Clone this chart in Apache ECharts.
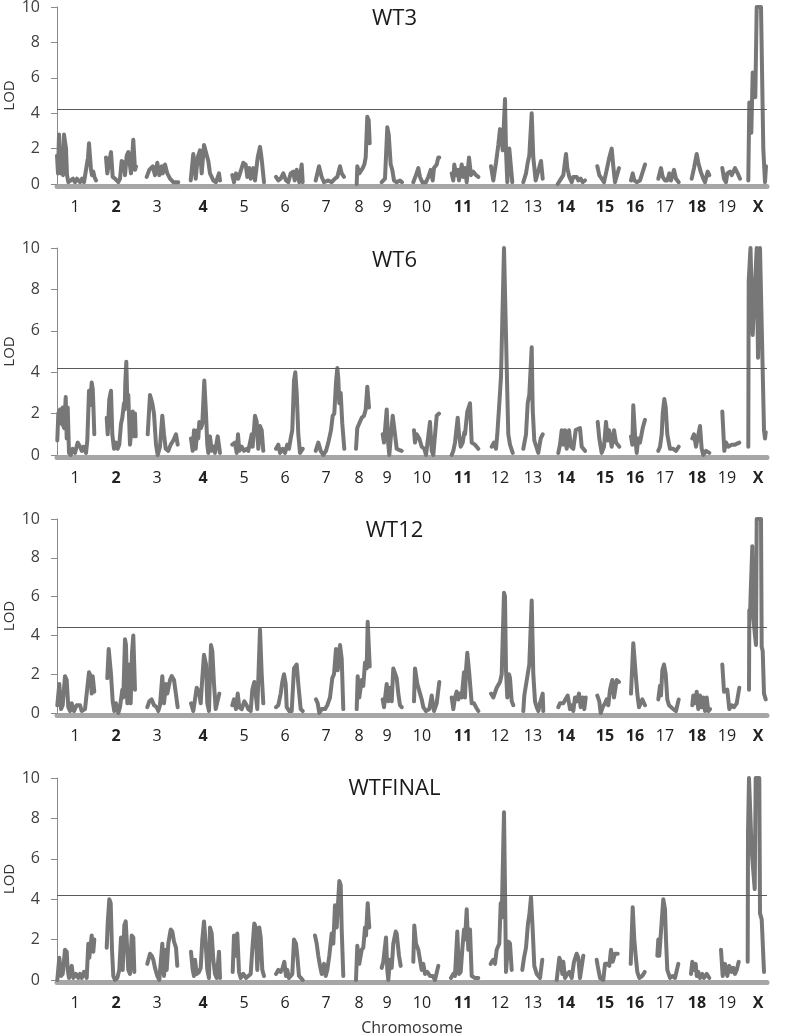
<!DOCTYPE html>
<html><head><meta charset="utf-8">
<script src="https://cdn.jsdelivr.net/npm/echarts@6/dist/echarts.min.js"></script>
<style>html,body{margin:0;padding:0;background:#fff}#c{width:787px;height:1036px}</style>
</head><body><div id="c"></div>
<script>
// ---- data ----
const panelNames = ['WT3', 'WT6', 'WT12', 'WTFINAL'];
const thresholds = [4.24, 4.19, 4.43, 4.19];
const chromLabels = ['1','2','3','4','5','6','7','8','9','10','11','12','13','14','15','16','17','18','19','X'];
const chromLabelPos = [18,59,100,146,187,228,269,302,330,365,406,443,476,509,548,578,608,640,670,701];
const boldChroms = ['2','4','11','14','15','16','18','X'];
const yTicks = [0, 2, 4, 6, 8, 10];

// genome position (marker index scale 0..710), LOD; one segment per chromosome
const wt3 = [
 [[0,1.6],[1,0.6],[2,2.8],[3,2.8],[4,0.6],[5,1.0],[6,0.5],[7,2.8],[8,2.8],[9,2.0],[10,0.5],[11.3,0.1],[13,0.05],[16,0.3],[18,0.1],[20,0.3],[23,0.1],[25,0.3],[27,0.1],[29,0.8],[31,1.5],[32,2.3],[33,2.2],[34,0.8],[35,0.5],[36.3,0.7],[37.5,0.4],[39,0.2]],
 [[49,1.5],[50.3,0.6],[52,1.2],[54,1.8],[55.7,0.4],[58,0.3],[61.3,0.1],[63,0.3],[64.7,1.3],[67,1.2],[68,0.5],[69.7,1.6],[71.3,1.8],[73,1.9],[74,0.6],[76.3,2.5],[78,0.8],[79,1.0]],
 [[89.7,0.4],[92.3,0.8],[95.7,1.0],[98,0.5],[100.3,1.2],[102.3,0.5],[104.7,1.0],[105.7,0.6],[108,1.1],[110.3,0.6],[113,0.3],[116.3,0.1],[121.3,0.1]],
 [[133.7,0.2],[136.3,1.7],[138.7,0.3],[140.7,1.5],[143,1.9],[144.7,0.6],[147,2.2],[149,2.2],[151.3,1.3],[153,0.6],[156.3,0.2],[159,0.1],[162,0.6],[163,0.2]],
 [[175.3,0.5],[177,0.1],[179,0.6],[181.3,0.3],[183,0.6],[186.3,1.2],[188.7,1.1],[190.3,0.4],[192.3,0.9],[193.7,0.3],[196.3,0.9],[198,0.2],[200.7,1.5],[203,2.1],[204.7,1.4],[207,0.1]],
 [[219,0.4],[221.3,0.2],[223.7,0.3],[226.3,0.6],[229,0.2],[231.3,0.1],[233.7,0.6],[236.3,0.7],[237.7,0.2],[239.7,0.8],[242.3,0.1],[244.7,1.1],[245.7,0.1]],
 [[258.7,0.2],[262,1.0],[264.7,0.4],[267,0.1],[271.3,0.2],[274.7,0.1],[278,0.3],[280.3,0.4],[283,1.0],[284.7,0.6],[287,0.4]],
 [[299.7,0.0],[300.3,1.0],[302.3,0.6],[305.7,0.9],[307.3,1.1],[308.7,1.5],[310.3,3.8],[311.7,3.6],[312.7,2.3]],
 [[324.7,0.1],[328,0.3],[330.3,3.2],[331.7,2.8],[333.7,1.1],[335.3,0.8],[337,0.2],[339.7,0.1],[341,0.05],[343,0.2],[345,0.1]],
 [[356.3,0.1],[359,0.5],[361.3,0.9],[363,0.4],[365.3,0.1],[369,0.1],[371.3,0.4],[373.7,0.8],[375.7,0.2],[377,0.9],[379.7,1.1],[381.3,1.5],[382.3,1.5]],
 [[394.7,0.6],[396.3,0.2],[397.3,1.1],[399,0.5],[400.7,0.8],[402,0.2],[404.7,1.1],[406.3,0.4],[408,0.9],[409.7,0.1],[412,1.5],[414,0.5],[416.3,0.7],[419,0.5],[421.3,0.4]],
 [[434,1.0],[436.3,0.2],[439,1.2],[441.3,2.2],[443,3.1],[444,2.9],[445.7,1.9],[448,4.8],[449,1.9],[450.3,0.1],[452.3,2.0],[453.7,1.9],[455.3,0.1]],
 [[466.3,0.1],[469,0.6],[470.7,1.2],[472.3,1.6],[474.7,4.0],[476.3,1.5],[478.7,0.2],[480.7,0.1],[484,1.3],[485.7,0.3]],
 [[500.7,0.0],[503,0.2],[504.7,0.1],[506.3,0.5],[509,1.7],[510.3,0.9],[512.3,0.4],[514.7,0.1],[516.3,0.4],[519.7,0.4],[521.3,0.2],[523.7,0.3],[525.7,0.1],[528,0.2]],
 [[540.3,1.0],[542.3,0.5],[544.7,0.3],[547,0.1],[549.7,0.8],[552.3,1.5],[554.7,2.0],[556.3,1.0],[558,0.1],[559.7,0.2],[562,0.9]],
 [[574,0.2],[575.7,0.6],[577.3,0.2],[579.7,0.1],[583,0.2],[584.7,0.3],[588,1.1]],
 [[601.3,0.3],[604,0.9],[605.7,0.4],[608,0.2],[610.3,0.2],[612.3,0.6],[614,0.2],[617,0.8],[619,0.3],[621.7,0.1]],
 [[634.7,0.3],[637,0.9],[639.7,1.7],[641.3,1.2],[643.7,0.7],[646.3,0.3],[648,0.1],[650.7,0.7],[652.3,0.5]],
 [[665.3,0.9],[667,0.3],[669,0.1],[670.3,0.6],[673,0.7],[674.7,0.5],[678,0.9],[680.7,0.6],[683,0.3]],
 [[691.3,0.2],[692.3,4.6],[693.3,4.4],[694.3,2.9],[695.7,6.3],[697,5.5],[698.3,4.9],[699.7,10],[704,10],[706.3,2.0],[708,0.1],[709,1.0]]
];

const wt6 = [
 [[0.3,0.7],[1.3,2.0],[3,2.2],[4.7,1.5],[5.7,2.3],[6.3,1.4],[7.3,1.3],[8.7,2.8],[9.7,0.8],[10.7,2.3],[12,0.1],[13.7,0.0],[15.7,0.3],[18,0.1],[20.7,0.6],[23,0.4],[24.7,0.2],[26.3,0.4],[29,0.1],[30.3,0.7],[32,3.1],[33,2.4],[34.7,3.5],[35.7,3.2],[36.3,2.5],[37.3,1.0]],
 [[49.7,1.8],[50.7,1.0],[52.3,2.7],[54,3.1],[55.3,1.0],[57,0.3],[59,0.6],[60.7,0.3],[62.3,0.5],[64,1.5],[65.3,1.8],[67,2.5],[67.7,2.2],[68.3,3.5],[69.3,4.5],[70.3,2.6],[71.3,2.9],[73,0.5],[74,1.0],[75.7,2.1],[77.3,0.9],[78,2.0],[78.7,0.9]],
 [[90.7,1.0],[93,2.9],[95.3,2.5],[97,2.0],[99,0.5],[100.7,0.0],[103,0.4],[105.3,1.9],[107,1.0],[108.7,0.3],[111.3,0.2],[113.7,0.5],[116.3,0.7],[119,1.0],[120.7,0.5]],
 [[134,0.8],[135.7,0.2],[137,1.2],[138.7,0.3],[140.3,1.2],[141.3,0.8],[142.3,1.6],[144,1.3],[145.3,1.5],[147.3,3.6],[149,2.0],[150.3,0.5],[151.3,0.1],[153,0.9],[154.7,0.2],[157,0.4],[158,0.1],[160.7,0.9],[163,0.1]],
 [[175.3,0.5],[178,0.6],[179.7,0.1],[181,1.0],[182.3,0.2],[184.7,0.4],[187,0.2],[189.7,0.3],[191.3,0.2],[194.7,1.0],[195.7,0.4],[198,1.9],[199.7,1.6],[201.3,0.3],[203,1.4],[204.7,1.2],[206.3,0.2]],
 [[219,0.3],[221.3,0.5],[223,0.1],[225.7,0.3],[228,0.1],[230.3,0.5],[232,0.3],[233.7,0.8],[235.3,1.2],[237,3.6],[238.3,4.0],[239.7,3.0],[241.3,1.0],[243,0.1],[245.7,0.3]],
 [[258.7,0.2],[261.3,0.6],[263.7,0.2],[266.3,0.0],[269,0.2],[271.3,0.6],[274,1.2],[275.7,1.9],[277.3,2.0],[279,3.5],[280.3,4.2],[281.3,3.7],[282.3,2.5],[283.7,3.0],[285.3,1.5],[287.3,0.3]],
 [[299,0.3],[300.3,1.3],[302.3,1.3],[304.7,1.8],[307,1.9],[308.7,2.2],[310.3,3.3],[312,2.3]],
 [[325.7,1.0],[327,0.6],[329.7,2.2],[331.3,0.5],[332.3,0.0],[335.7,1.9],[338,1.0],[339.7,0.3],[342,0.25],[344.7,0.2]],
 [[357,1.2],[358,0.6],[359.7,1.0],[362.3,0.8],[364.7,0.4],[367.3,0.3],[369,0.0],[373,1.6],[374.7,0.2],[376.3,0.0],[379.7,1.9],[382,2.0]],
 [[394.7,0.0],[396.3,0.2],[398,0.6],[400.7,1.8],[402,1.0],[403.7,0.4],[405.7,0.6],[407.3,1.1],[408,1.0],[410.3,2.1],[413,2.5],[414.7,0.6],[418,0.5],[421.3,0.3]],
 [[434.7,0.4],[437,0.6],[439,0.3],[440.3,1.0],[443,3.0],[444,3.8],[445.3,3.8],[447,10],[448.7,10],[450.3,3.0],[451.3,1.0],[453,0.5],[455.7,0.1]],
 [[466.3,0.3],[469,1.0],[470.7,2.5],[472.3,2.9],[474.7,5.2],[475.7,2.2],[477.3,0.7],[481.3,0.1],[483.7,0.8],[485.7,1.0]],
 [[501.3,0.1],[503,0.5],[504.7,1.2],[506.3,0.5],[508,1.2],[509.7,0.3],[512,1.2],[514,0.4],[516.3,0.3],[518.7,1.2],[523,1.3],[524.7,0.4],[528,0.2]],
 [[540.7,1.6],[542.3,0.8],[544.7,0.1],[547,0.4],[549,1.6],[550.7,0.7],[552,1.2],[554.7,0.4],[557,1.2],[559,0.6],[562.3,0.4]],
 [[574,0.9],[575.3,0.5],[576.3,2.4],[578,1.0],[579.7,0.1],[581.3,0.8],[583,0.6],[585.7,1.3],[588,1.7]],
 [[601.3,0.2],[603,0.4],[604.7,1.0],[605.7,2.0],[607.3,2.7],[608.7,2.3],[610.3,1.0],[613,0.3],[616.3,0.3],[619,0.2],[621.7,0.4]],
 [[635.3,0.8],[637,1.0],[639,0.4],[643,1.4],[644.7,0.3],[646.3,0.0],[649,0.2],[652.3,0.1]],
 [[665.3,2.1],[667.3,0.2],[669,0.6],[671.3,0.4],[674.7,0.5],[678,0.5],[682.3,0.6]],
 [[691.3,0.4],[691.7,8.4],[693.5,10],[695.7,5.8],[697.7,5.8],[699.7,10],[701,4.7],[703,10],[704.5,10],[707,1.2],[708,0.8],[708.7,1.1]]
];

const wt12 = [
 [[0.3,0.4],[2.3,1.5],[4,0.2],[5.7,0.4],[8,1.9],[9.7,1.7],[11.3,0.3],[13,0.1],[14.7,0.5],[17,0.1],[19.7,0.4],[23,0.4],[24.7,0.1],[28,0.2],[29.7,0.1],[32,2.1],[33.7,1.9],[34.7,1.0],[35.7,1.9],[37.3,1.1]],
 [[50.3,1.8],[51.7,3.3],[53,3.3],[54,2.0],[55.7,0.6],[57.3,0.1],[59,0.5],[61.3,0.0],[63,0.3],[65.3,1.2],[66.3,0.8],[68,3.8],[69,3.5],[70.3,0.5],[72,2.5],[73.7,0.5],[75,3.1],[76.3,4.0],[78,1.2]],
 [[90.3,0.3],[92.3,0.6],[94.7,0.7],[97,0.4],[99.7,0.3],[101.3,0.1],[103,0.4],[105.3,1.9],[107,0.5],[109,1.5],[110.3,1.0],[113,1.7],[114.7,1.9],[117,1.7],[119,1.6],[120.7,0.3]],
 [[134,0.5],[136.3,0.1],[139.7,1.3],[142,1.1],[143.7,0.5],[145.3,1.8],[147,3.0],[149,2.5],[150.3,0.5],[152,0.1],[153,2.0],[154,3.5],[155.3,3.2],[157,1.5],[158.7,0.2],[160.3,0.1],[162.3,1.0]],
 [[175.3,0.4],[177,0.7],[179,0.2],[180.7,1.0],[182.3,0.3],[184.7,0.2],[187.3,0.6],[189.7,0.4],[191.3,0.2],[193.7,0.1],[195.3,1.2],[197.3,1.6],[199,1.5],[200.3,0.2],[203,4.3],[204.7,2.0],[206.3,0.5]],
 [[219,0.3],[221.3,0.4],[223.7,1.0],[225.3,1.6],[227,2.0],[228.7,1.5],[229.7,0.3],[232.3,0.1],[234.7,0.1],[237,2.3],[239.7,2.5],[241.3,1.5],[243.7,0.2],[245.7,0.1]],
 [[259,0.7],[260.7,0.5],[262.3,0.0],[264.7,0.2],[268,0.2],[270.3,0.4],[273,0.8],[275.3,1.8],[277,2.0],[279,3.3],[280.7,2.2],[283,3.5],[284.7,2.8],[286.3,0.2]],
 [[299.7,0.2],[300.7,1.9],[302.3,0.8],[304.7,1.7],[306.3,1.4],[308,2.6],[309.7,2.3],[310.7,4.7],[312,4.6],[312.7,2.4]],
 [[325.7,0.7],[327,0.3],[329.7,1.5],[331.3,0.6],[333,1.3],[334.7,0.6],[336.3,2.3],[339.7,1.8],[341.3,1.0],[343,0.4],[344.7,0.3]],
 [[357,0.6],[358,2.3],[360.3,1.5],[362.3,1.5],[364.7,0.7],[366.3,0.3],[369,0.1],[372.3,0.2],[374.7,0.9],[377,0.1],[379.7,0.5],[382.3,1.6]],
 [[394.7,0.8],[396.3,0.2],[398,0.8],[399.7,1.1],[401.3,0.7],[403,1.0],[404.7,0.8],[407,2.1],[408,0.8],[409,2.2],[410.3,3.1],[412,2.2],[413,2.3],[414.7,0.5],[417,0.5],[419,0.3],[421.3,0.1]],
 [[434,1.0],[436.3,0.8],[438,0.7],[439.7,1.3],[441.3,1.2],[443,1.6],[444.7,2.0],[447,6.2],[448,6.0],[449,2.2],[450.3,0.8],[452,2.0],[453,1.8],[454.7,0.6],[456.3,0.4]],
 [[466.3,0.1],[467.3,0.9],[469,1.0],[470.7,2.0],[472.3,2.5],[474.7,5.8],[476.3,2.0],[478,0.6],[479.7,0.3],[481.3,0.1],[483,0.5],[485.7,1.0],[486.3,0.1]],
 [[501.3,0.3],[503,0.5],[504.7,0.6],[506.3,0.5],[510.7,0.9],[513,0.2],[514.7,0.4],[516.3,0.1],[518,0.8],[519.7,0.6],[522,1.0],[523.7,0.3],[525.7,0.8],[527.3,0.2],[528.7,0.8]],
 [[540.3,0.9],[542.3,0.6],[543.7,0.0],[545.7,0.3],[548,0.5],[549.7,0.7],[551.3,0.4],[553,1.2],[555.3,1.7],[557,0.8],[559.7,1.7],[562,1.6]],
 [[574,1.0],[576.3,3.6],[578.7,2.0],[580.3,1.0],[582,0.3],[583.7,0.2],[585.3,0.7],[588,0.4]],
 [[601.3,0.7],[603,1.4],[604,0.9],[605.3,2.2],[607,2.5],[608.7,2.0],[610.3,0.7],[612,0.4],[614,0.3],[616.3,0.2],[619,0.1],[621.7,0.7]],
 [[635.3,0.4],[636.3,0.9],[638,0.5],[639.7,1.1],[641.3,0.2],[643,0.9],[644.7,0.3],[646.3,0.8],[648,0.1],[649.7,0.8],[651.3,0.1],[653,0.2]],
 [[665.3,2.5],[667,1.1],[670.3,1.2],[672.3,0.2],[674.7,0.4],[677,0.3],[679.7,0.5],[682.3,1.3]],
 [[692,1.2],[692.3,5.3],[693,5.0],[693.7,6.2],[695.3,8.6],[696.3,4.9],[698,4.9],[699,3.5],[699.7,10],[704,10],[704.7,3.4],[705.7,3.2],[707,1.0],[708.7,0.7]]
];

const wtFinal = [
 [[0.3,0.0],[2.3,1.1],[4,0.2],[5.7,0.3],[8,1.5],[9.7,1.4],[10.7,0.5],[12,0.1],[14.7,0.7],[16.3,0.1],[19,0.3],[21.3,0.1],[23,0.3],[24.7,0.1],[27,0.4],[29.7,0.1],[31.3,1.8],[32.3,1.1],[34.7,2.2],[36.3,1.4],[37.3,2.0]],
 [[49.7,1.6],[50.7,2.8],[52.3,4.0],[53.7,3.8],[55,1.5],[56.3,0.2],[58,0.0],[60.3,0.1],[62.3,0.5],[64,2.1],[65.7,0.5],[67.3,2.7],[68.7,2.9],[69.7,2.0],[71.3,0.5],[73,0.3],[74.7,2.2],[76.3,2.1],[77.3,0.4]],
 [[90.3,0.8],[93,1.3],[94.7,1.2],[96.3,1.0],[98,0.6],[100.3,0.2],[102.3,0.0],[105.3,1.8],[107,0.2],[109,1.5],[109.7,0.5],[111.3,1.8],[113.7,2.5],[115.3,2.4],[117,1.9],[119,1.6],[120.3,0.7]],
 [[134,1.4],[135.7,0.5],[137,0.2],[138,1.0],[139.7,0.3],[142,0.4],[143.7,0.6],[145.3,2.0],[147,2.9],[148.7,1.8],[150.3,0.5],[152,0.1],[153,2.6],[154.7,2.3],[156.3,1.0],[158,0.3],[159.7,0.1],[162,1.4],[163,0.1]],
 [[175.7,0.4],[177,2.2],[179,1.2],[180.3,2.3],[182,0.4],[183.7,0.1],[186.3,0.3],[189,0.1],[191.3,0.2],[193.7,0.3],[195.3,1.5],[197.3,2.8],[198.7,2.6],[200.3,0.5],[202.3,2.6],[203.7,2.1],[205.3,0.5],[207,0.2]],
 [[219,0.3],[221.3,0.5],[223.7,0.4],[225.7,0.6],[227.3,0.9],[229,0.2],[230.3,0.5],[232,0.1],[233.7,0.2],[235.3,0.3],[237,2.0],[239,1.8],[240.3,1.2],[242,0.2],[244,0.1],[245.7,0.0]],
 [[258,2.2],[259.7,1.8],[261.3,1.2],[263,0.7],[264.7,0.3],[267,0.8],[268.7,0.2],[270.3,0.5],[272.3,1.2],[274.7,2.3],[276.3,1.8],[278,3.7],[279.7,2.6],[282.3,4.9],[283.7,4.7],[284.7,2.5],[286.3,0.2]],
 [[299,0.0],[300.3,1.7],[302.3,0.8],[304.7,1.5],[306.3,1.6],[308,2.6],[309,2.2],[310.7,3.8],[311.7,3.0],[312.3,2.6]],
 [[324.7,0.6],[326.3,0.9],[329,2.1],[330.3,0.5],[331.3,0.0],[333,1.0],[334.7,0.6],[336.3,1.8],[338.7,2.4],[339.7,2.3],[342,1.2],[343.7,0.7]],
 [[356.3,0.9],[357.3,2.7],[359,1.8],[361.3,1.5],[363,1.0],[364.7,0.5],[366.3,0.8],[368,0.3],[370.3,0.4],[373,0.2],[375.7,0.2],[378,0.0],[381.3,0.7]],
 [[394,0.1],[396.3,0.3],[398,0.2],[400.3,2.4],[402,0.3],[403.7,0.4],[405.3,1.5],[407,2.5],[408,2.0],[409.7,3.5],[411.3,1.5],[413,2.5],[414.7,0.2],[418,0.1],[421.3,0.1]],
 [[433.7,0.8],[434.7,0.9],[436.3,1.0],[438,0.8],[439.7,1.5],[442.3,1.8],[443.7,3.8],[444.7,3.1],[447,8.3],[448,4.5],[449,0.4],[451.3,1.9],[453,1.8],[454.7,0.5]],
 [[465.3,0.5],[467,1.1],[469,1.6],[471,2.8],[472.3,3.2],[474,4.1],[475.7,2.5],[477.3,0.7],[479.7,0.3],[483,0.1],[485.3,1.0]],
 [[499.7,0.0],[502.3,1.1],[504,0.9],[505.3,0.3],[506.3,0.9],[508,0.1],[510.3,0.3],[512.3,0.4],[514.7,0.1],[517,0.9],[519.7,1.3],[521.3,1.1],[523,0.1],[526.3,1.2]],
 [[539.7,1.0],[540.7,0.7],[543,0.1],[546.3,0.0],[548,0.8],[550.3,0.8],[552.3,0.7],[554,1.5],[555.7,0.9],[558,1.3],[560.7,1.3]],
 [[573.7,0.8],[575.7,3.6],[577.3,2.0],[578.7,1.2],[580.3,0.4],[582.3,0.1],[585.3,0.2],[587.7,0.4]],
 [[600.3,1.2],[601.3,2.0],[602.3,1.2],[604.7,2.9],[606.3,4.0],[608,3.5],[609,2.0],[610.3,0.5],[613,0.1],[615.7,0.2],[618,0.1],[621.3,0.8]],
 [[634,0.3],[635.3,0.9],[637,0.5],[638.7,0.8],[639.7,0.2],[641.3,0.4],[643,0.1],[645.3,0.3],[647,0.1],[649.7,0.3],[652.3,0.1]],
 [[664,1.5],[665.7,0.2],[668,0.8],[670.3,0.2],[672.3,0.7],[674.7,0.4],[676.3,0.6],[678,0.3],[679.7,0.5],[681.7,0.9]],
 [[690.7,0.9],[691,7.3],[692,10],[694,10],[694.7,6.4],[696.3,6.4],[697.7,4.5],[698.7,10],[702.3,10],[703,3.3],[704.7,3.0],[707,0.4]]
];

// ---- chart ----
const panels = [wt3, wt6, wt12, wtFinal];
const FONT = '"Open Sans", "Noto Sans", sans-serif';
const layout = [
  {top: 7, height: 177, titleTop: 3},
  {top: 248, height: 207, titleTop: 245},
  {top: 519, height: 194, titleTop: 515},
  {top: 778, height: 202, titleTop: 773}
];

function withGaps(segments) {
  const out = [];
  segments.forEach(seg => {
    seg.forEach(p => out.push(p));
    out.push([seg[seg.length - 1][0] + 0.5, '-']);
  });
  return out;
}

const labelStyle = {fontFamily: FONT, fontSize: 16, color: '#222'};

const option = {
  animation: false,
  backgroundColor: '#fff',
  title: panelNames.map((n, i) => ({
    text: n, left: 389.5, top: layout[i].titleTop, textAlign: 'center',
    textStyle: {fontFamily: FONT, fontSize: 22, fontWeight: 'normal', color: '#1a1a1a'}
  })),
  grid: layout.map(l => ({left: 57, width: 710, top: l.top, height: l.height, containLabel: false, outerBoundsMode: 'none'})),
  xAxis: layout.map((l, i) => ({
    gridIndex: i, type: 'value', min: 0, max: 710, offset: 2.5,
    axisLine: {show: true, onZero: false, lineStyle: {color: '#a6a6a6', width: 5}},
    axisTick: {show: false},
    splitLine: {show: false},
    axisLabel: {
      customValues: chromLabelPos,
      margin: 13,
      formatter: v => {
        const idx = chromLabelPos.indexOf(v);
        const t = idx >= 0 ? chromLabels[idx] : '';
        return boldChroms.includes(t) ? '{b|' + t + '}' : '{n|' + t + '}';
      },
      rich: {
        n: Object.assign({}, labelStyle),
        b: Object.assign({fontWeight: 'bold'}, labelStyle)
      }
    },
    name: i === 3 ? 'Chromosome' : '',
    nameLocation: 'middle', nameGap: 38,
    nameTextStyle: {fontFamily: FONT, fontSize: 16, color: '#333'}
  })),
  yAxis: layout.map((l, i) => ({
    gridIndex: i, type: 'value', min: yTicks[0], max: yTicks[yTicks.length - 1], interval: 2,
    axisLine: {show: true, lineStyle: {color: '#8a8a8a', width: 1}},
    axisTick: {show: true, length: 6, lineStyle: {color: '#8a8a8a'}},
    splitLine: {show: false},
    axisLabel: {fontFamily: FONT, fontSize: 16, color: '#404040', margin: 17},
    name: 'LOD', nameLocation: 'middle', nameGap: 40, nameMoveOverlap: false,
    nameTextStyle: {fontFamily: FONT, fontSize: 15, color: '#333'}
  })),
  series: panels.map((segs, i) => ({
    type: 'line', xAxisIndex: i, yAxisIndex: i,
    data: withGaps(segs),
    showSymbol: false, symbol: 'none', connectNulls: false, silent: true,
    lineStyle: {color: '#777777', width: 4, join: 'round', cap: 'round'},
    markLine: {
      silent: true, symbol: 'none', animation: false,
      label: {show: false},
      lineStyle: {color: '#5a5a5a', width: 1, type: 'solid'},
      data: [{yAxis: thresholds[i]}]
    }
  }))
};

const chart = echarts.init(document.getElementById('c'), null, {renderer: 'canvas'});
chart.setOption(option);
</script>
</body></html>
